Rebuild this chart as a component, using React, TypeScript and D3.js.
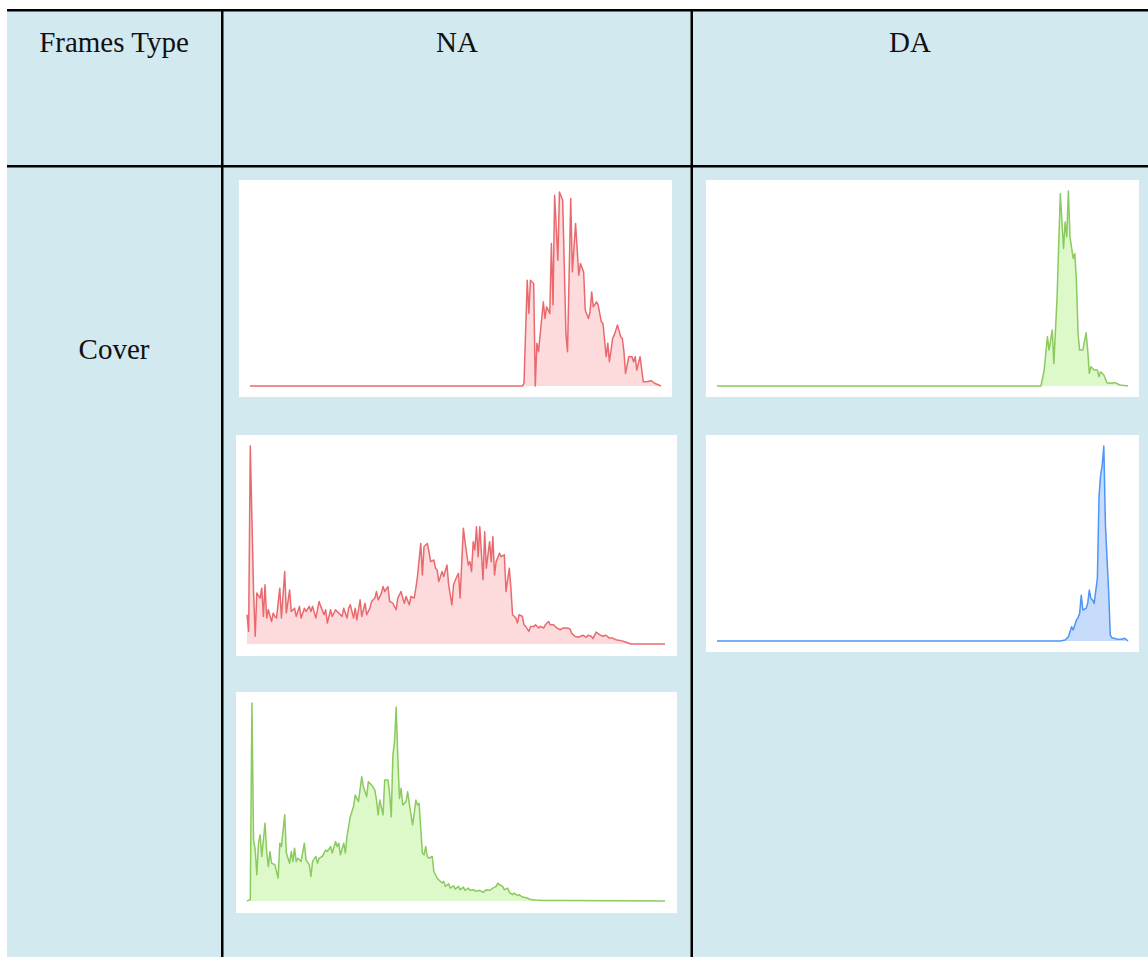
import React from 'react';
import * as d3 from 'd3';

const WIDTH = 1148;
const HEIGHT = 957;

// table text
const headers = ['Frames Type', 'NA', 'DA'];
const rowLabels = ['Cover'];

// histograms: [bin (0-255), value (% of the panel's peak)]
const naCover1 = [
  [0, 0], [169, 0], [170, 1.4], [172, 54.5], [173, 37.4], [174, 54.5], [176, 52.8], [177, 0],
  [178, 22], [179, 17.7], [182, 43.4], [183, 34.8], [184, 40.8], [186, 37.4], [187, 73.4],
  [188, 41.7], [189, 98.3], [191, 64.8], [192, 100], [194, 95.7], [196, 27.1], [197, 17.7],
  [199, 96.6], [200, 58.8], [202, 83.7], [204, 57.1], [205, 63.1], [207, 58.8], [208, 39.1],
  [210, 34.8], [211, 38.3], [212, 48.5], [213, 40.8], [215, 43.4], [216, 41.7], [218, 33.1],
  [219, 32.2], [221, 15.1], [222, 22], [223, 12.5], [225, 24.5], [226, 26.2], [228, 31.4],
  [230, 25.4], [231, 24.5], [232, 17.7], [233, 6.5], [235, 15.1], [237, 15.1], [238, 12.5],
  [239, 15.1], [240, 8.2], [242, 15.1], [244, 2.2], [246, 2.2], [249, 2.7], [251, 1.4], [255, 0],
];

const naCover2 = [
  [0, 14.8], [1, 6.4], [2, 100], [4, 26.5], [5, 3.9], [6, 25.7], [8, 23.2], [9, 28.2], [10, 13.9],
  [11, 29.9], [12, 13.1], [13, 17.3], [15, 11.4], [16, 15.6], [17, 13.9], [18, 13.1], [20, 28.2],
  [21, 13.1], [23, 36.6], [24, 15.6], [26, 27.3], [27, 16.4], [29, 18.1], [30, 13.9], [32, 19],
  [33, 13.1], [35, 18.1], [36, 16.4], [38, 19], [39, 16.4], [40, 19], [42, 13.1], [44, 21.5],
  [45, 19], [47, 14.8], [48, 17.3], [49, 10.6], [51, 17.3], [52, 13.9], [54, 17.3], [56, 15.6],
  [58, 13.9], [59, 18.1], [61, 13.1], [62, 18.1], [63, 19.8], [65, 13.1], [66, 18.1], [67, 12.2],
  [69, 22.3], [70, 13.9], [72, 20.6], [73, 14.8], [75, 18.1], [76, 21.5], [78, 23.2], [79, 26.5],
  [80, 22.3], [82, 25.7], [83, 29], [84, 26.5], [86, 29], [87, 21.5], [89, 20.6], [91, 17.3],
  [92, 23.2], [94, 26.5], [95, 23.2], [96, 20.6], [97, 24], [99, 19.8], [100, 24], [102, 23.2],
  [103, 28.2], [104, 34.1], [106, 50.8], [107, 34.9], [108, 49.2], [110, 50.8], [111, 46.6],
  [112, 41.6], [114, 42.4], [115, 38.3], [116, 37.4], [117, 31.5], [119, 36.6], [120, 34.1],
  [122, 39.9], [123, 29.9], [125, 19.8], [126, 29.9], [128, 34.1], [129, 35.7], [130, 23.2],
  [132, 58.4], [133, 51.7], [135, 39.9], [136, 41.6], [137, 36.6], [138, 51.7], [139, 47.5],
  [140, 59.2], [141, 44.1], [142, 59.2], [144, 32.4], [145, 56.7], [146, 38.3], [148, 51.7],
  [149, 41.6], [150, 54.2], [151, 34.9], [152, 41.6], [154, 45.8], [155, 44.1], [157, 45],
  [158, 26.5], [160, 38.3], [161, 28.2], [162, 14.8], [164, 13.1], [165, 10.6], [166, 14.8],
  [168, 13.9], [169, 9.7], [170, 8.9], [172, 6.4], [173, 8.9], [175, 8.9], [176, 9.7], [178, 8.1],
  [179, 8.9], [181, 8.1], [182, 9.7], [184, 11.4], [185, 9.7], [187, 9.7], [189, 8.1], [191, 7.2],
  [193, 8.1], [195, 8.1], [197, 7.7], [198, 5.5], [200, 3.9], [202, 3.4], [205, 4.4], [207, 3.4],
  [208, 4.4], [210, 3.9], [211, 2.7], [213, 6], [215, 4.7], [217, 3.9], [219, 4.4], [221, 3],
  [223, 3], [225, 2.2], [228, 1.7], [231, 1], [234, 0], [255, 0],
];

const naCover3 = [
  [0, 0], [2, 0.7], [3, 100], [4, 30.9], [5, 25.8], [6, 13.3], [7, 29.2], [8, 33.4], [9, 22.5],
  [11, 39.3], [12, 25], [13, 17.4], [14, 25], [15, 19.1], [17, 18.3], [19, 11.6], [20, 29.2],
  [21, 27.5], [23, 43.5], [24, 24.2], [26, 19.1], [27, 25], [28, 20], [29, 26.7], [30, 20],
  [31, 21.6], [33, 20], [35, 29.2], [36, 20.8], [38, 18.3], [39, 12.4], [40, 20], [42, 22.5],
  [43, 19.1], [44, 21.6], [46, 22.5], [48, 25.8], [49, 25], [51, 27.5], [52, 24.2], [54, 30],
  [55, 27.5], [56, 29.2], [57, 23.3], [59, 29.2], [60, 24.2], [61, 32.6], [63, 42.6], [65, 47.7],
  [66, 53.5], [68, 50.2], [70, 62.8], [71, 57.7], [73, 52.7], [74, 60.2], [76, 58.6], [78, 56],
  [79, 51], [80, 43.5], [81, 51], [83, 43.5], [84, 61.1], [86, 61.1], [87, 54.4], [88, 42.6],
  [89, 73.7], [90, 80.4], [91, 98], [92, 72.8], [93, 51.8], [94, 56.9], [95, 48.5], [97, 50.2],
  [98, 55.2], [99, 49.3], [101, 38.4], [102, 44.3], [103, 51], [104, 48.5], [105, 49.3],
  [107, 24.2], [108, 23.3], [109, 27.5], [110, 22.5], [111, 21.6], [113, 22.5], [114, 14.9],
  [116, 11.6], [117, 10.7], [119, 9.1], [120, 9.9], [121, 7.4], [123, 8.7], [124, 6.5], [126, 7.7],
  [127, 6], [129, 7.4], [130, 5.7], [132, 7], [133, 5.4], [135, 6.5], [136, 5.4], [138, 5.7],
  [140, 4.9], [142, 5.4], [144, 4.4], [146, 5.7], [148, 5.4], [150, 6.5], [152, 7.4], [153, 9.1],
  [154, 8.2], [156, 7.4], [157, 5.7], [159, 6.5], [160, 4.4], [162, 3.2], [163, 4], [165, 2.7],
  [166, 3.2], [168, 2], [171, 1.5], [173, 0.7], [176, 0.5], [181, 0.3], [193, 0.2], [255, 0],
];

const daCover1 = [
  [0, 0], [201, 0], [203, 8.2], [205, 25.3], [206, 18.4], [208, 28.7], [209, 11.6], [211, 45.7],
  [213, 98.6], [215, 70.5], [216, 84.1], [217, 76.5], [218, 100], [219, 76.5], [221, 65.4],
  [222, 67.9], [223, 54.3], [224, 27], [225, 18.4], [227, 18.4], [229, 27.3], [230, 18.4],
  [231, 6.5], [232, 9.9], [234, 8.2], [236, 8.2], [237, 4.8], [238, 7.3], [239, 6.5], [240, 5.6],
  [242, 1.7], [244, 1.4], [247, 1.7], [250, 0.5], [255, 0],
];

const daCover2 = [
  [0, 0], [213, 0], [216, 0.5], [218, 2.2], [220, 7.3], [221, 5.6], [223, 10.8], [224, 11.9],
  [225, 14.2], [226, 23.5], [227, 15.9], [229, 16.7], [230, 19.3], [231, 26.1], [232, 21.8],
  [233, 21], [234, 19.3], [236, 32.1], [237, 73.9], [238, 85], [239, 90.1], [240, 100],
  [241, 59.4], [243, 25.3], [244, 3.1], [245, 1.7], [248, 1], [251, 0.9], [253, 1.4], [255, 0],
];

const palette = {
  red: { line: '#e96a6e', fill: '#fddadb' },
  green: { line: '#8bca5f', fill: '#ddf8c9' },
  blue: { line: '#4f95f4', fill: '#c7dcfb' },
};

// where each histogram card sits on the page
const panels = [
  { data: naCover1, color: 'red', box: [239, 180, 672, 397], plot: [250, 192, 661, 386] },
  { data: naCover2, color: 'red', box: [236, 435, 677, 656], plot: [247, 446, 665, 644] },
  { data: naCover3, color: 'green', box: [236, 692, 677, 913], plot: [247, 703, 665, 901] },
  { data: daCover1, color: 'green', box: [706, 180, 1139, 397], plot: [717, 191, 1128, 386] },
  { data: daCover2, color: 'blue', box: [706, 435, 1139, 652], plot: [717, 446, 1128, 641] },
];

const App = () => {
  const svgRef = React.useRef(null);

  React.useEffect(() => {
    const svg = d3.select(svgRef.current);
    svg.selectAll('*').remove();

    // table background + grid
    svg.append('rect').attr('x', 7).attr('y', 9).attr('width', WIDTH - 7).attr('height', HEIGHT - 9)
      .attr('fill', '#d2e9ef');
    svg.append('rect').attr('x', 7).attr('y', 9).attr('width', WIDTH - 7).attr('height', 2.5).attr('fill', '#000');
    svg.append('rect').attr('x', 7).attr('y', 165).attr('width', WIDTH - 7).attr('height', 2.5).attr('fill', '#000');
    svg.append('rect').attr('x', 221).attr('y', 9).attr('width', 2.5).attr('height', HEIGHT - 9).attr('fill', '#000');
    svg.append('rect').attr('x', 690.5).attr('y', 9).attr('width', 2.5).attr('height', HEIGHT - 9).attr('fill', '#000');

    const font = "'Liberation Serif', 'Times New Roman', serif";
    const headerX = [114, 457, 910];
    svg.selectAll('.header')
      .data(headers)
      .join('text')
      .attr('class', 'header')
      .attr('x', (d, i) => headerX[i])
      .attr('y', 52)
      .attr('text-anchor', 'middle')
      .attr('font-family', font)
      .attr('font-size', 29)
      .attr('fill', '#111')
      .text(d => d);

    svg.selectAll('.row-label')
      .data(rowLabels)
      .join('text')
      .attr('class', 'row-label')
      .attr('x', 114)
      .attr('y', 359)
      .attr('text-anchor', 'middle')
      .attr('font-family', font)
      .attr('font-size', 29)
      .attr('fill', '#111')
      .text(d => d);

    panels.forEach(p => {
      const [bx0, by0, bx1, by1] = p.box;
      const [px0, py0, px1, py1] = p.plot;
      const c = palette[p.color];
      const g = svg.append('g');

      g.append('rect').attr('x', bx0).attr('y', by0).attr('width', bx1 - bx0).attr('height', by1 - by0)
        .attr('fill', '#fff');

      const x = d3.scaleLinear().domain([0, 255]).range([px0, px1]);
      const y = d3.scaleLinear().domain([0, 100]).range([py1, py0]);

      const area = d3.area()
        .x(d => x(d[0]))
        .y0(y(0))
        .y1(d => y(d[1]));
      const line = d3.line()
        .x(d => x(d[0]))
        .y(d => y(d[1]));

      g.append('path').datum(p.data).attr('d', area).attr('fill', c.fill);
      g.append('path').datum(p.data).attr('d', line)
        .attr('fill', 'none')
        .attr('stroke', c.line)
        .attr('stroke-width', 1.5)
        .attr('stroke-linejoin', 'round');
    });
  }, []);

  return (
    <svg ref={svgRef} width={WIDTH} height={HEIGHT}
      style={{ position: 'absolute', left: 0, top: 0, display: 'block', background: '#fff' }} />
  );
};

export default App;
